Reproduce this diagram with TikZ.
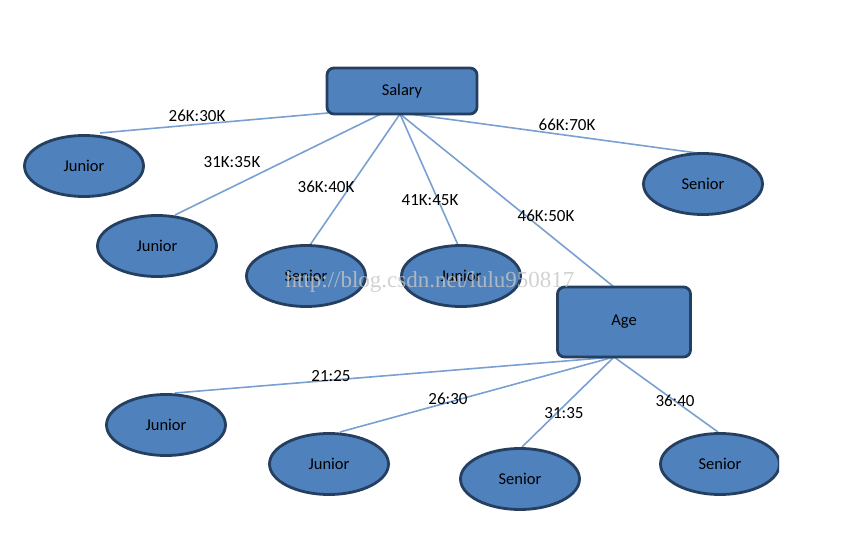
\documentclass[tikz,border=0pt]{standalone}
\usepackage{fontspec}
\setmainfont{Carlito}
\newfontfamily\wmfont{Liberation Serif}
\usetikzlibrary{shapes.geometric}
\definecolor{boxfill}{HTML}{4F81BD}
\definecolor{boxdraw}{HTML}{243F60}
\definecolor{edgecol}{HTML}{7AA0D2}
\tikzset{
  leaf/.style={ellipse, draw=boxdraw, fill=boxfill, line width=2.8pt, minimum width=119pt, minimum height=61pt, inner sep=0pt, font=\fontsize{16.5}{16.5}\selectfont},
  attr/.style={rectangle, rounded corners=7pt, draw=boxdraw, fill=boxfill, line width=2.8pt, inner sep=0pt, font=\fontsize{16.5}{16.5}\selectfont},
  edge/.style={draw=edgecol, line width=1.6pt},
  lbl/.style={font=\fontsize{17}{17}\selectfont, inner sep=0pt}
}
\begin{document}
\begin{tikzpicture}[x=1pt,y=-1pt]
\useasboundingbox (0,0) rectangle (841,545);
% coordinates for edge ends
\coordinate (s1) at (328,113);
\coordinate (s2) at (381,114);
\coordinate (s3) at (400,114);
\coordinate (s4) at (410,114);
\coordinate (a0) at (614,357);
% edges
\draw[edge] (s1) -- (100,133);
\draw[edge] (s2) -- (175,215);
\draw[edge] (s3) -- (310,245);
\draw[edge] (s3) -- (458,245);
\draw[edge] (s3) -- (614,287);
\draw[edge] (s4) -- (697,153);
\draw[edge] (a0) -- (175,393);
\draw[edge] (a0) -- (340,432);
\draw[edge] (a0) -- (522,447);
\draw[edge] (a0) -- (718,432);
% nodes
\node[attr, minimum width=150pt, minimum height=46pt] (salary) at (402,91) {Salary};
\node[attr, minimum width=133pt, minimum height=70pt] (age) at (624,322) {Age};
\node[leaf] (n1) at (84,166) {Junior};
\node[leaf] (n2) at (157,246) {Junior};
\node[leaf] (n3) at (306,276) {Senior};
\node[leaf] (n4) at (461,276) {Junior};
\node[leaf] (n5) at (703,184) {Senior};
\node[leaf] (m1) at (166,425) {Junior};
\node[leaf] (m2) at (329,464) {Junior};
\node[leaf] (m3) at (520,479) {Senior};
\begin{scope}
\clip (640,420) rectangle (779,510);
\node[leaf] (m4) at (720,464) {Senior};
\end{scope}
% labels
\node[lbl] at (197,116) {26K:30K};
\node[lbl] at (232,162) {31K:35K};
\node[lbl] at (326,187) {36K:40K};
\node[lbl] at (430,200) {41K:45K};
\node[lbl] at (546,216) {46K:50K};
\node[lbl] at (567,125) {66K:70K};
\node[lbl] at (331,376) {21:25};
\node[lbl] at (448,399) {26:30};
\node[lbl] at (564,413) {31:35};
\node[lbl] at (675,401) {36:40};
% watermark
\node[text=gray!45, opacity=0.8, font=\wmfont\fontsize{23}{23}\selectfont] at (430,282) {http://blog.csdn.net/lulu950817};
\end{tikzpicture}
\end{document}
